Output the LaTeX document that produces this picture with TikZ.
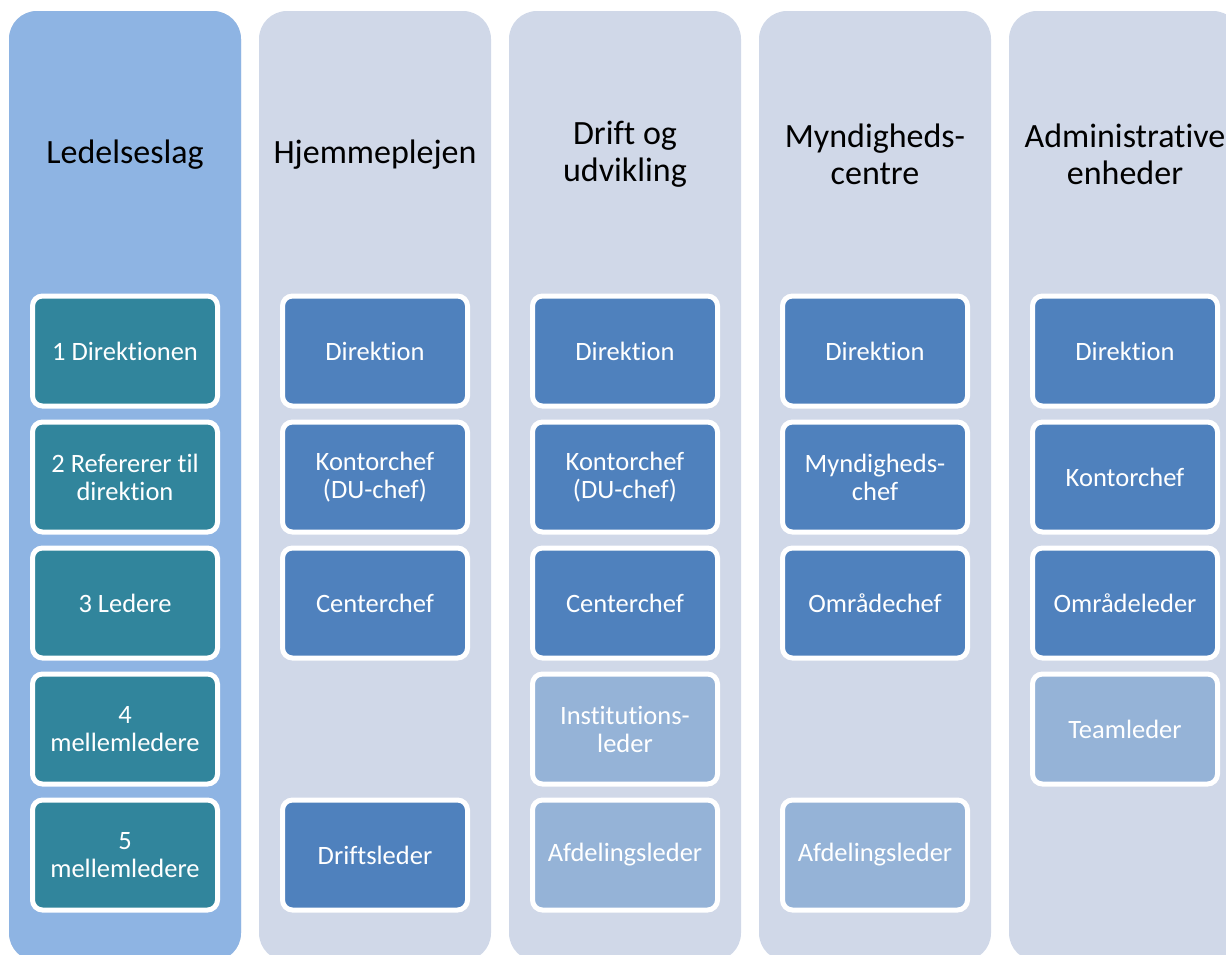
\documentclass[tikz,border=0pt]{standalone}
\usepackage{fontspec}
\setmainfont{Carlito}[Ligatures=NoCommon]

\definecolor{laybg}{HTML}{8EB4E3}
\definecolor{colbg}{HTML}{D0D8E8}
\definecolor{laybox}{HTML}{31859C}
\definecolor{darkbox}{HTML}{4F81BD}
\definecolor{lightbox}{HTML}{95B3D7}

\tikzset{
 column/.style={rounded corners=28pt, fill=colbg},
 title/.style={align=center, font=\fontsize{34}{37}\selectfont, text=black},
 lvl/.style={draw=white, line width=5pt, rounded corners=10pt, minimum width=185pt,
   minimum height=110pt, align=center, text=white, font=\fontsize{26.5}{28}\selectfont},
 laylvl/.style={lvl, fill=laybox},
 darklvl/.style={lvl, fill=darkbox},
 lightlvl/.style={lvl, fill=lightbox},
}

\begin{document}
\begin{tikzpicture}[x=1pt, y=-1pt]

\useasboundingbox (0,0) rectangle (1226,954);
\clip (0,0) rectangle (1226,954);

\def\colW{232}
\def\colH{950}

% columns
\foreach \i in {0,...,4} {
 	\fill[column] ({9+250*\i},11) rectangle ++(\colW,\colH);
}
\fill[column, fill=laybg] (9,11) rectangle ++(\colW,\colH);

% headings
\node[title] (lag) at (125,155) {Ledelseslag};
\node[title] (hjem) at (375,155) {Hjemmeplejen};
\node[title] (drift) at (625,154) {Drift og\\udvikling};
\node[title] (myn) at (875,154) {Myndigheds-\\centre};
\node[title] (adm) at (1125,154) {Administrative\\enheder};

% ledelseslag
\foreach \k/\txt in {0/{1 Direktionen}, 1/{2 Refererer til\\direktion}, 2/{3 Ledere},
                     3/{4\\mellemledere}, 4/{5\\mellemledere}} {
 	\node[laylvl] (lag\k) at (125,{351+126*\k}) {\txt};
}

% hjemmeplejen
\node[darklvl] (hjem0) at (375,351) {Direktion};
\node[darklvl] (hjem1) at (375,477) {Kontorchef\\(DU-chef)};
\node[darklvl] (hjem2) at (375,603) {Centerchef};
\node[darklvl] (hjem4) at (375,855) {Driftsleder};

% drift og udvikling
\node[darklvl] (drift0) at (625,351) {Direktion};
\node[darklvl] (drift1) at (625,477) {Kontorchef\\(DU-chef)};
\node[darklvl] (drift2) at (625,603) {Centerchef};
\node[lightlvl] (drift3) at (625,729) {Institutions-\\leder};
\node[lightlvl] (drift4) at (625,855) {Afdelingsleder};

% myndighedscentre
\node[darklvl] (myn0) at (875,351) {Direktion};
\node[darklvl] (myn1) at (875,477) {Myndigheds-\\chef};
\node[darklvl] (myn2) at (875,603) {Områdechef};
\node[lightlvl] (myn4) at (875,855) {Afdelingsleder};

% administrative enheder
\node[darklvl] (adm0) at (1125,351) {Direktion};
\node[darklvl] (adm1) at (1125,477) {Kontorchef};
\node[darklvl] (adm2) at (1125,603) {Områdeleder};
\node[lightlvl] (adm3) at (1125,729) {Teamleder};

\end{tikzpicture}
\end{document}
